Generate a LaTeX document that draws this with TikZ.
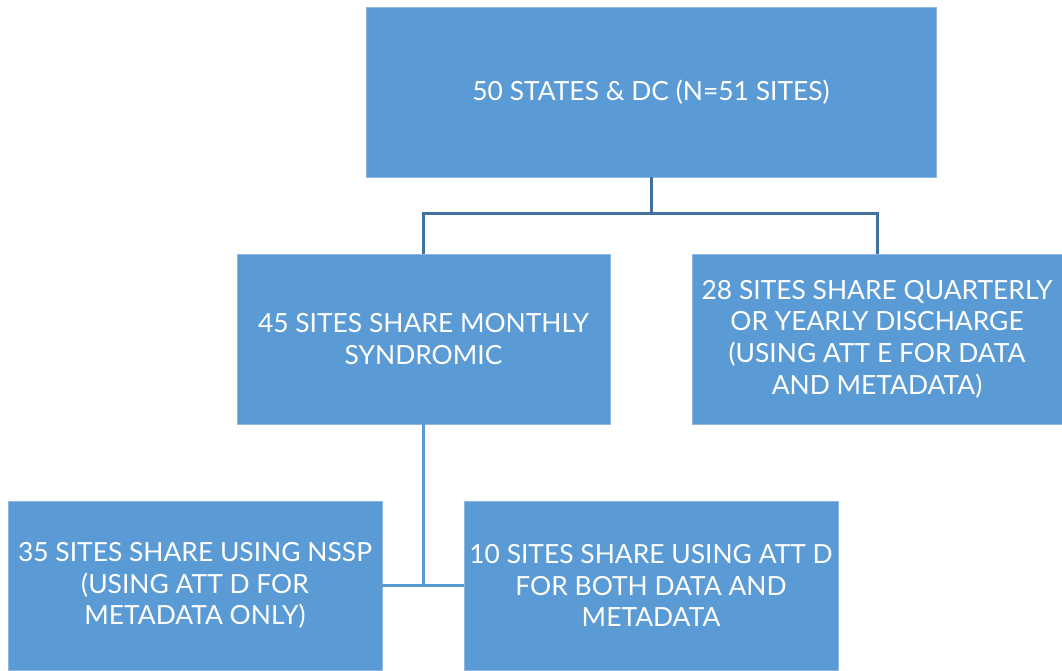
\documentclass[tikz,border=0pt]{standalone}
\usepackage{fontspec}
\setmainfont{Lato}
\usetikzlibrary{positioning}
\definecolor{boxblue}{HTML}{5B9BD5}
\definecolor{linedark}{HTML}{41719C}
\definecolor{boxedge}{HTML}{8FB8E0}

\begin{document}
\begin{tikzpicture}[x=1pt,y=-1pt,
	site/.style={rectangle,fill=boxblue,draw=boxedge,line width=0.8pt,text=white,
		align=center,inner sep=0pt,minimum height=170pt,
		font=\fontsize{26.4}{31.6}\selectfont},
	link/.style={line width=3pt,linedark},
	linklight/.style={line width=3pt,boxblue}]
	
	\useasboundingbox (0,0) rectangle (1062,670);
	
	\node[site,minimum width=570pt] (S) at (651,92) {50 STATES \& DC (N=51 SITES)};
	
	\node[site,minimum width=373pt] (M) at (423.5,339) {45 SITES SHARE MONTHLY\\SYNDROMIC};
	\node[site,minimum width=370pt] (Q) at (877,339) {28 SITES SHARE QUARTERLY\\OR YEARLY DISCHARGE\\(USING ATT E FOR DATA\\AND METADATA)};
	
	\node[site,minimum width=374pt,minimum height=169pt] (N) at (195,585.5) {35 SITES SHARE USING NSSP\\(USING ATT D FOR\\METADATA ONLY)};
	\node[site,minimum width=374pt,minimum height=169pt] (D) at (651,585.5) {10 SITES SHARE USING ATT D\\FOR BOTH DATA AND\\METADATA};
	
	\coordinate (fork) at (651,213);
	\draw[link] (S.south) -- (fork) -| (M.north);
	\draw[link] (fork) -| (Q.north);
	
	\draw[linklight] (M.south) -- (M.south |- N.east);
	\draw[linklight] (N.east) -- (D.west);
	
\end{tikzpicture}
\end{document}
